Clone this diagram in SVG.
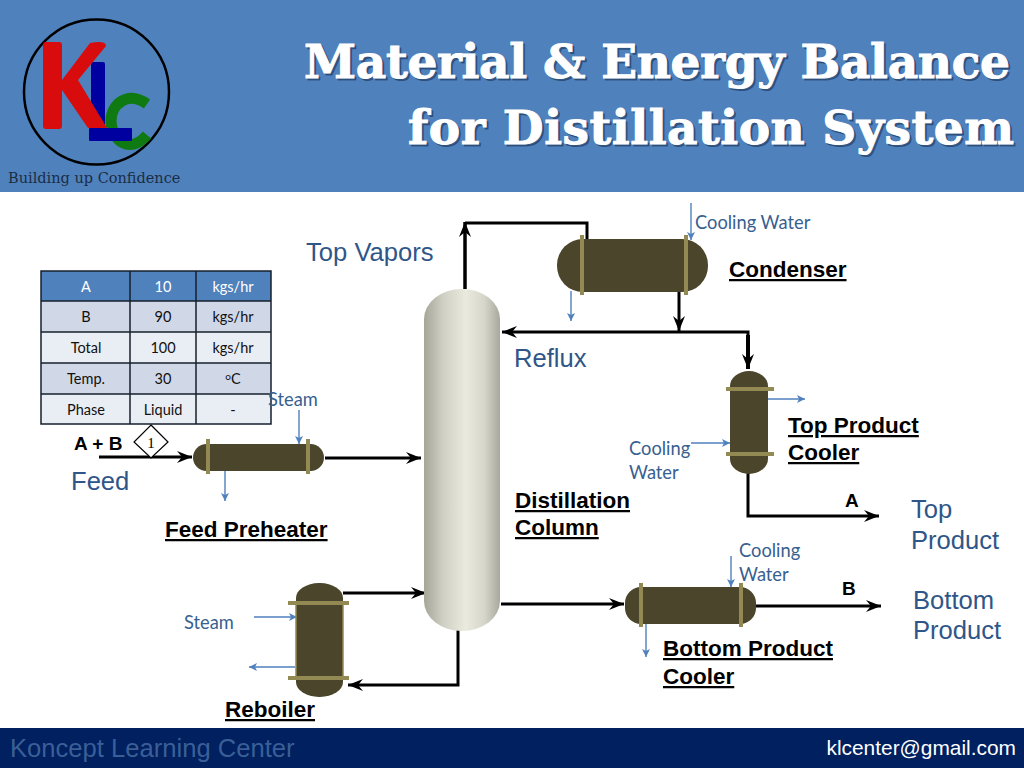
<svg xmlns="http://www.w3.org/2000/svg" width="1024" height="768" viewBox="0 0 1024 768">
<style>
.title{font:bold 47px "DejaVu Serif",serif;fill:#fff;stroke:#fff;stroke-width:1}
.shadow{font:bold 47px "DejaVu Serif",serif;fill:#1d3557;fill-opacity:.55;stroke:#1d3557;stroke-opacity:.55;stroke-width:1}
.big{font:25.600px "Liberation Sans",Arial,sans-serif;fill:#2f5688}
.small{font:18.300px Lato,"Open Sans",sans-serif;fill:#37608f}
.bold{font:bold 22.500px "Liberation Sans",Arial,sans-serif;fill:#000;text-decoration:underline}
.key{font:bold 19px "Liberation Sans",Arial,sans-serif;fill:#000}
.cell{font:14.500px Lato,"Open Sans",sans-serif;fill:#111;text-anchor:middle}
.vessel{fill:#4b452c}
.flange{stroke:#938953;stroke-width:4;fill:none}
.pipe{fill:none;stroke:#000;stroke-width:3}
.thick{fill:none;stroke:#000;stroke-width:4}
.util{fill:none;stroke:#4f81bd;stroke-width:1.400}
</style>
<defs>
<marker id="a" markerUnits="userSpaceOnUse" markerWidth="18" markerHeight="14" refX="15" refY="7" orient="auto"><path d="M0 1L15 7L0 13L5 7Z" fill="#000"/></marker>
<marker id="u" markerUnits="userSpaceOnUse" markerWidth="10" markerHeight="10" refX="8" refY="5" orient="auto"><path d="M0 1L8 5L0 9L2 5Z" fill="#4f81bd"/></marker>
<linearGradient id="col" x1="0" x2="1" y1="0" y2="0"><stop offset="0" stop-color="#a5a598"/><stop offset=".25" stop-color="#cfcfc3"/><stop offset=".55" stop-color="#eaeadf"/><stop offset=".8" stop-color="#d5d5ca"/><stop offset="1" stop-color="#a8a89c"/></linearGradient>
</defs>

<g id="header">
<rect width="1024" height="192" fill="#4f81bd"/>
<text class="shadow" x="306" y="80" textLength="706" lengthAdjust="spacing">Material &amp; Energy Balance</text>
<text class="shadow" x="410" y="146" textLength="606" lengthAdjust="spacing">for Distillation System</text>
<text class="title" x="304" y="78" textLength="706" lengthAdjust="spacing">Material &amp; Energy Balance</text>
<text class="title" x="408" y="144" textLength="606" lengthAdjust="spacing">for Distillation System</text>
</g>
<g id="logo">
<circle cx="96.500" cy="92" r="72.500" fill="none" stroke="#000" stroke-width="2.500"/>
<rect x="91" y="62" width="14" height="72" rx="2" fill="#0000a0"/>
<path d="M147 104C127 90 111 105 111 121C111 140 130 155 147 135" fill="none" stroke="#0f7a12" stroke-width="11"/>
<rect x="43" y="42" width="19" height="87" rx="3" fill="#d80c0c"/>
<path d="M62 80L90 43Q106 40 106 46L78 80L107 128L88 128L62 90Z" fill="#d80c0c"/>
<rect x="89" y="128" width="43" height="13" rx="1" fill="#0000a0"/>
<text x="8" y="183" font-family="'DejaVu Serif',serif" font-size="14.500" fill="#1c2d44">Building up Confidence</text>
</g>
<g id="footer">
<rect y="728" width="1024" height="40" fill="#002060"/>
<text x="10" y="757" font-family="'Liberation Sans',Arial,sans-serif" font-size="25.600" fill="#3a5f96">Koncept Learning Center</text>
<text x="1016" y="755" text-anchor="end" font-family="'Liberation Sans',Arial,sans-serif" font-size="20.900" fill="#fff">klcenter@gmail.com</text>
</g>

<g id="stream-table">
<rect x="41" y="271" width="230" height="30" fill="#4f81bd"/>
<rect x="41" y="301" width="230" height="31" fill="#d0d8e8"/>
<rect x="41" y="332" width="230" height="31" fill="#e9edf4"/>
<rect x="41" y="363" width="230" height="31" fill="#d0d8e8"/>
<rect x="41" y="394" width="230" height="30" fill="#e9edf4"/>
<path d="M41 271H271V424H41ZM41 301H271M41 332H271M41 363H271M41 394H271M130 271V424M196 271V424" fill="none" stroke="#16202c" stroke-width="1.500"/>
<g class="cell">
<text x="86" y="292" style="fill:#fff">A</text><text x="163" y="292" style="fill:#fff">10</text><text x="233" y="292" style="fill:#fff">kgs/hr</text>
<text x="86" y="322">B</text><text x="163" y="322">90</text><text x="233" y="322">kgs/hr</text>
<text x="86" y="353">Total</text><text x="163" y="353">100</text><text x="233" y="353">kgs/hr</text>
<text x="86" y="384">Temp.</text><text x="163" y="384">30</text><text x="233" y="384"><tspan font-size="10" dy="-4">o</tspan><tspan dy="4">C</tspan></text>
<text x="86" y="415">Phase</text><text x="163" y="415">Liquid</text><text x="233" y="415">-</text>
</g>
</g>

<g id="connectors">
<path class="pipe" d="M99 457H192" marker-end="url(#a)"/>
<path class="pipe" d="M325 458H421" marker-end="url(#a)"/>
<path class="pipe" d="M465 289V222" style="stroke-width:3.500" marker-end="url(#a)"/>
<path class="pipe" d="M465 223H587V240"/>
<path class="pipe" d="M679 292V331" marker-end="url(#a)"/>
<path class="pipe" d="M680 332H502" marker-end="url(#a)"/>
<path class="pipe" d="M680 332H748V350"/>
<path class="thick" d="M748 335V369" marker-end="url(#a)"/>
<path class="pipe" d="M748 473V516H879" marker-end="url(#a)"/>
<path class="pipe" d="M501 604H624" marker-end="url(#a)"/>
<path class="pipe" d="M753 606H881" marker-end="url(#a)"/>
<path class="pipe" d="M343 593H426" marker-end="url(#a)"/>
<path class="pipe" d="M458 630V685H348" marker-end="url(#a)"/>
<path class="util" d="M299 410V444" marker-end="url(#u)"/>
<path class="util" d="M225 470V501" marker-end="url(#u)"/>
<path class="util" d="M691 203V240" marker-end="url(#u)"/>
<path class="util" d="M571 291V321" marker-end="url(#u)"/>
<path class="util" d="M767 399H805" marker-end="url(#u)"/>
<path class="util" d="M691 443H730" marker-end="url(#u)"/>
<path class="util" d="M254 617H297" marker-end="url(#u)"/>
<path class="util" d="M295 667H249" marker-end="url(#u)"/>
<path class="util" d="M731 556V587" marker-end="url(#u)"/>
<path class="util" d="M646 622V657" marker-end="url(#u)"/>
</g>

<g id="feed-marker">
<path d="M151 425L168 442L151 458L134 442Z" fill="#fff" stroke="#000" stroke-width="1.200"/>
<text x="151" y="448" text-anchor="middle" font-family="'Liberation Serif',serif" font-size="15">1</text>
</g>
<g id="feed-preheater">
<rect class="vessel" x="193" y="444" width="131" height="27" rx="13.500"/>
<path class="flange" d="M208 439V474M308 439V474"/>
</g>
<g id="distillation-column">
<rect x="424" y="289" width="76" height="342" rx="38" ry="30" fill="url(#col)"/>
</g>
<g id="condenser">
<rect class="vessel" x="557" y="239" width="151" height="53" rx="26"/>
<path class="flange" d="M582 235V295M686 235V295"/>
</g>
<g id="top-product-cooler">
<rect class="vessel" x="730" y="371" width="38" height="103" rx="19" ry="15"/>
<path class="flange" d="M726 389H774M726 454H774"/>
</g>
<g id="bottom-product-cooler">
<rect class="vessel" x="625" y="587" width="131" height="37" rx="16"/>
<path class="flange" d="M641 583V627M741 583V627"/>
</g>
<g id="reboiler">
<rect class="vessel" x="296" y="583" width="47" height="114" rx="23" ry="15"/>
<path d="M296 603V677M343 603V677" stroke="#938953" stroke-width="1.500" fill="none"/>
<path class="flange" d="M288 603H349M288 678H349"/>
</g>

<g id="labels">
<text class="big" x="306" y="261">Top Vapors</text>
<text class="big" x="514" y="367">Reflux</text>
<text class="big" x="71" y="490">Feed</text>
<text class="big" x="911" y="518">Top</text>
<text class="big" x="911" y="549">Product</text>
<text class="big" x="913" y="609">Bottom</text>
<text class="big" x="913" y="639">Product</text>
<text class="small" x="695" y="229">Cooling Water</text>
<text class="small" x="268" y="406">Steam</text>
<text class="small" x="629" y="455">Cooling</text>
<text class="small" x="629" y="479">Water</text>
<text class="small" x="739" y="557">Cooling</text>
<text class="small" x="739" y="581">Water</text>
<text class="small" x="184" y="629">Steam</text>
<text class="bold" x="729" y="277">Condenser</text>
<text class="bold" x="788" y="433">Top Product</text>
<text class="bold" x="788" y="460">Cooler</text>
<text class="bold" x="515" y="508">Distillation</text>
<text class="bold" x="515" y="535">Column</text>
<text class="bold" x="165" y="537">Feed Preheater</text>
<text class="bold" x="663" y="656">Bottom Product</text>
<text class="bold" x="663" y="684">Cooler</text>
<text class="bold" x="225" y="717">Reboiler</text>
<text class="key" x="74" y="450">A + B</text>
<text class="key" x="845" y="507">A</text>
<text class="key" x="842" y="595">B</text>
</g>
</svg>
